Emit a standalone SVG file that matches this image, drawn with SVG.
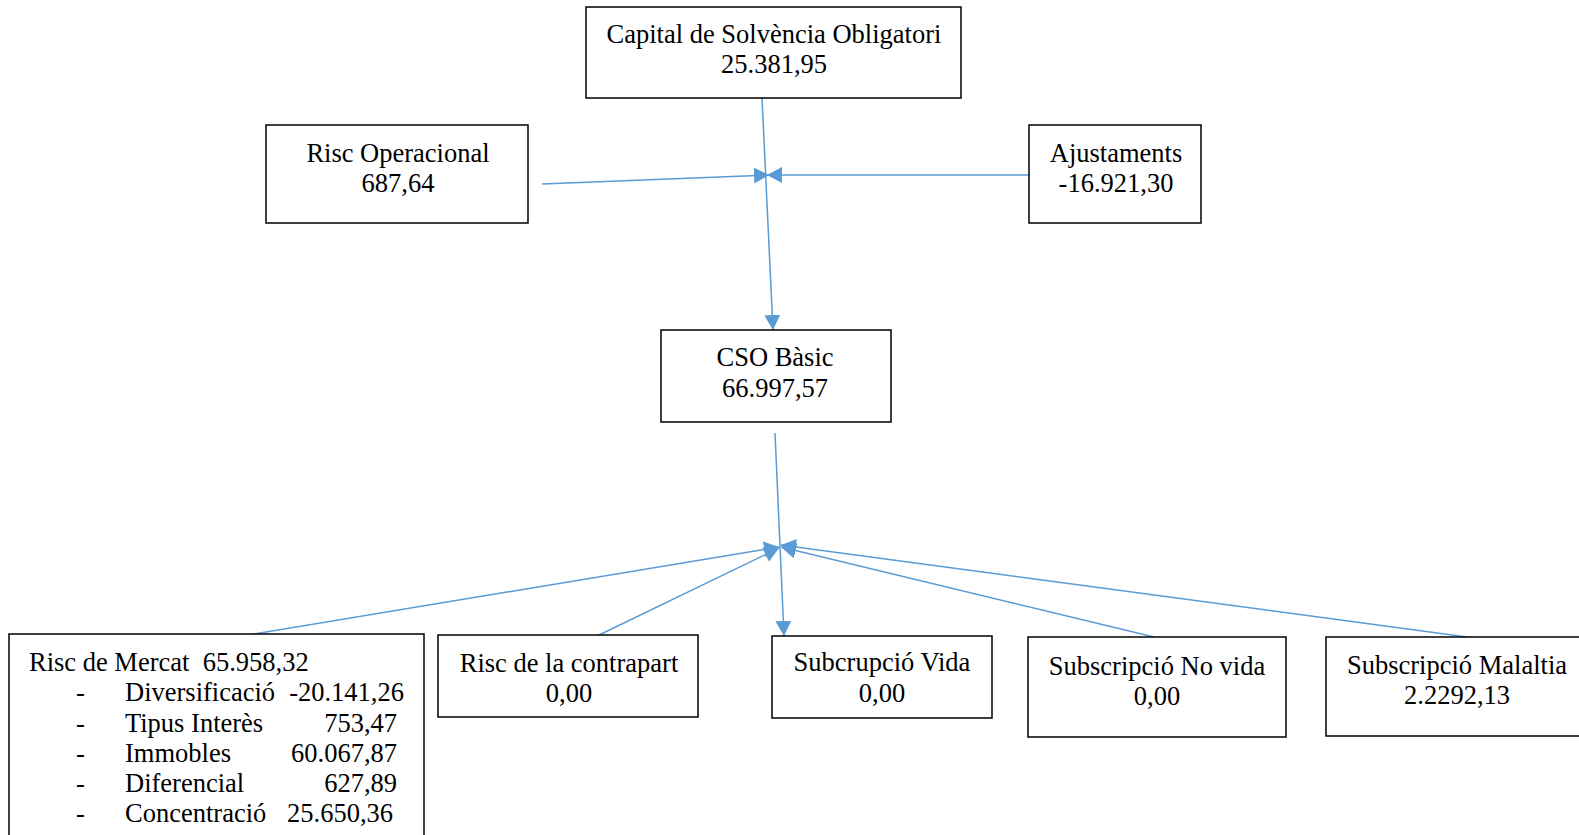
<svg xmlns="http://www.w3.org/2000/svg" width="1579" height="835" viewBox="0 0 1579 835">
<style>
.box{fill:#fff;stroke:#000;stroke-width:1.5}
.t{font-family:"Liberation Serif","Times New Roman",serif;font-size:26.5px;fill:#000;text-anchor:middle}
.l{text-anchor:start}
.e{text-anchor:end}
.c{stroke:#5B9BD5;stroke-width:1.5;fill:none;marker-end:url(#arr)}
</style>
<defs>
<marker id="arr" markerUnits="userSpaceOnUse" markerWidth="18" markerHeight="18" refX="15" refY="8" orient="auto">
<path d="M0,0 L15,8 L0,16 z" fill="#5B9BD5"/>
</marker>
</defs>
<rect width="1579" height="835" fill="#fff"/>
<g id="connectors">
<line class="c" x1="762" y1="98" x2="773" y2="330"/>
<line class="c" x1="542" y1="184" x2="769" y2="175"/>
<line class="c" x1="1029" y1="175" x2="767" y2="175"/>
<line class="c" x1="775" y1="433" x2="784" y2="636"/>
<line class="c" x1="242" y1="636" x2="779" y2="547"/>
<line class="c" x1="597" y1="636" x2="779" y2="548"/>
<line class="c" x1="1154" y1="637" x2="781" y2="547"/>
<line class="c" x1="1467" y1="637" x2="781" y2="545"/>
</g>
<g id="capital">
<rect class="box" x="586" y="7" width="375" height="91"/>
<text class="t" x="774" y="42.5">Capital de Solvència Obligatori</text>
<text class="t" x="774" y="72.5">25.381,95</text>
</g>
<g id="risc-operacional">
<rect class="box" x="266" y="125" width="262" height="98"/>
<text class="t" x="398" y="162">Risc Operacional</text>
<text class="t" x="398" y="192">687,64</text>
</g>
<g id="ajustaments">
<rect class="box" x="1029" y="125" width="172" height="98"/>
<text class="t" x="1116" y="162">Ajustaments</text>
<text class="t" x="1116" y="192">-16.921,30</text>
</g>
<g id="cso-basic">
<rect class="box" x="661" y="330" width="230" height="92"/>
<text class="t" x="775" y="366">CSO Bàsic</text>
<text class="t" x="775" y="397">66.997,57</text>
</g>
<g id="risc-mercat">
<rect class="box" x="9" y="634" width="415" height="210"/>
<text class="t l" x="29" y="671" xml:space="preserve">Risc de Mercat  65.958,32</text>
<text class="t l" x="76" y="701">-</text>
<text class="t l" x="125" y="701">Diversificació</text>
<text class="t e" x="404" y="701">-20.141,26</text>
<text class="t l" x="76" y="732">-</text>
<text class="t l" x="125" y="732">Tipus Interès</text>
<text class="t e" x="397" y="732">753,47</text>
<text class="t l" x="76" y="762">-</text>
<text class="t l" x="125" y="762">Immobles</text>
<text class="t e" x="397" y="762">60.067,87</text>
<text class="t l" x="76" y="792">-</text>
<text class="t l" x="125" y="792">Diferencial</text>
<text class="t e" x="397" y="792">627,89</text>
<text class="t l" x="76" y="822">-</text>
<text class="t l" x="125" y="822">Concentració</text>
<text class="t e" x="393" y="822">25.650,36</text>
</g>
<g id="risc-contrapart">
<rect class="box" x="438" y="635" width="260" height="82"/>
<text class="t" x="569" y="672">Risc de la contrapart</text>
<text class="t" x="569" y="702">0,00</text>
</g>
<g id="subcrupcio-vida">
<rect class="box" x="772" y="636" width="220" height="82"/>
<text class="t" x="882" y="671">Subcrupció Vida</text>
<text class="t" x="882" y="702">0,00</text>
</g>
<g id="subscripcio-no-vida">
<rect class="box" x="1028" y="637" width="258" height="100"/>
<text class="t" x="1157" y="675">Subscripció No vida</text>
<text class="t" x="1157" y="705">0,00</text>
</g>
<g id="subscripcio-malaltia">
<rect class="box" x="1326" y="637" width="260" height="99"/>
<text class="t" x="1457" y="674">Subscripció Malaltia</text>
<text class="t" x="1457" y="704">2.2292,13</text>
</g>
</svg>
